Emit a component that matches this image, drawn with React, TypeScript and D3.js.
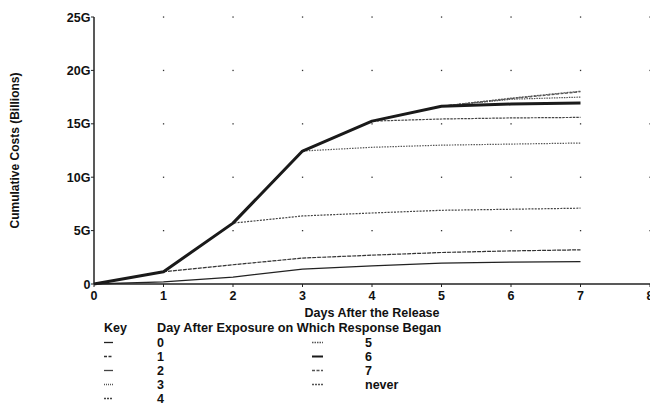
import * as d3 from "d3";

const DAYS = [0, 1, 2, 3, 4, 5, 6, 7];
const X_TICKS = [0, 1, 2, 3, 4, 5, 6, 7, 8];
const Y_TICKS = [0, 5, 10, 15, 20, 25];
const Y_TICK_LABELS = ["0", "5G", "10G", "15G", "20G", "25G"];

// cumulative costs (billions) per response-start day
const R0 = [0, 0.2, 0.65, 1.4, 1.7, 1.95, 2.05, 2.1];
const R1 = [0, 1.15, 1.8, 2.43, 2.7, 2.95, 3.1, 3.2];
const R2 = [0, 1.15, 5.7, 6.37, 6.65, 6.9, 7.0, 7.1];
const R3 = [0, 1.15, 5.7, 12.45, 12.8, 13.0, 13.1, 13.2];
const R4 = [0, 1.15, 5.7, 12.45, 15.25, 15.45, 15.55, 15.6];
const R5 = [0, 1.15, 5.7, 12.45, 15.25, 16.65, 17.3, 17.5];
const R6 = [0, 1.15, 5.7, 12.45, 15.25, 16.65, 16.85, 16.95];
const R7 = [0, 1.15, 5.7, 12.45, 15.25, 16.65, 17.35, 18.0];
const NEVER = [0, 1.15, 5.7, 12.45, 15.25, 16.65, 17.4, 18.05];

const KEY_COL1 = ["0", "1", "2", "3", "4"];
const KEY_COL2 = ["5", "6", "7", "never"];

// dash = line in chart, keyDash = glyph in the key
const series = [
  { key: "0", values: R0, dash: "", keyDash: "", width: 1.3, color: "#222" },
  { key: "1", values: R1, dash: "4,1", keyDash: "3,1.5", width: 1.2, color: "#333" },
  { key: "2", values: R2, dash: "2,1.2", keyDash: "", width: 1.2, color: "#444" },
  { key: "3", values: R3, dash: "1.5,1.2", keyDash: "1,1", width: 1.2, color: "#555" },
  { key: "4", values: R4, dash: "2.5,1", keyDash: "2,1", width: 1.2, color: "#444" },
  { key: "5", values: R5, dash: "1.5,1", keyDash: "1.5,1", width: 1.2, color: "#555" },
  { key: "7", values: R7, dash: "3,1.5", keyDash: "3,1.5", width: 1.2, color: "#555" },
  { key: "never", values: NEVER, dash: "2,1", keyDash: "2,1", width: 1.2, color: "#555" },
  { key: "6", values: R6, dash: "", keyDash: "", width: 3, color: "#1a1a1a" },
];

const FONT = "'Liberation Sans', Arial, sans-serif";

export default function App() {
  const width = 650;
  const height = 405;

  const x = d3.scaleLinear().domain([0, 8]).range([94, 650]);
  const y = d3.scaleLinear().domain([0, 25]).range([284, 17]);

  const line = d3
    .line<number>()
    .x((_, i) => x(DAYS[i]))
    .y((d) => y(d));

  const styleOf = (k: string) => series.find((s) => s.key === k)!;

  const keyRow = (k: string, i: number, gx: number, gw: number, tx: number) => {
    const s = styleOf(k);
    const cy = 342.5 + i * 14;
    return (
      <g key={k}>
        <line
          x1={gx}
          x2={gx + gw}
          y1={cy}
          y2={cy}
          stroke={s.color}
          strokeWidth={s.width > 2 ? 2 : 1.3}
          strokeDasharray={s.keyDash || undefined}
        />
        <text x={tx} y={cy + 4.5} fontSize={12.5} fill="#111">{k}</text>
      </g>
    );
  };

  return (
    <svg
      width={width}
      height={height}
      style={{ position: "absolute", left: 0, top: 0, background: "#fff" }}
      fontFamily={FONT}
      fontWeight="bold"
    >
      {/* grid dots */}
      {X_TICKS.slice(1).map((dx) =>
        Y_TICKS.slice(1).map((dy) => (
          <rect
            key={`${dx}-${dy}`}
            x={x(dx) - 0.6}
            y={y(dy) - 0.6}
            width={1.3}
            height={1.3}
            fill="#333"
          />
        ))
      )}

      {/* axes */}
      <line x1={x(0)} x2={x(0)} y1={y(0)} y2={y(25)} stroke="#222" strokeWidth={1.5} />
      <line x1={x(0)} x2={x(8)} y1={y(0)} y2={y(0)} stroke="#222" strokeWidth={1.5} />
      {Y_TICKS.map((v, i) => (
        <g key={v} transform={`translate(${x(0)},${y(v)})`}>
          <line x1={-3} x2={0} stroke="#222" strokeWidth={1} />
          <text x={-3.5} dy="0.36em" textAnchor="end" fontSize={12.5} fill="#111">
            {Y_TICK_LABELS[i]}
          </text>
        </g>
      ))}
      {X_TICKS.map((v) => (
        <g key={v} transform={`translate(${x(v)},${y(0)})`}>
          <line y1={0} y2={3} stroke="#222" strokeWidth={1} />
          <text y={15.5} textAnchor="middle" fontSize={12.5} fill="#111">
            {v}
          </text>
        </g>
      ))}

      <text
        transform={`translate(19,${(y(0) + y(25)) / 2}) rotate(-90)`}
        textAnchor="middle"
        fontSize={12}
        fill="#111"
      >
        Cumulative Costs (Billions)
      </text>
      <text x={x(4)} y={316.5} textAnchor="middle" fontSize={12.5} fill="#111">
        Days After the Release
      </text>

      {/* lines */}
      {series.map((s) => (
        <path
          key={s.key}
          d={line(s.values) ?? undefined}
          fill="none"
          stroke={s.color}
          strokeWidth={s.width}
          strokeDasharray={s.dash || undefined}
          strokeLinejoin="round"
        />
      ))}

      {/* key */}
      <text x={104} y={332} fontSize={12.5} fill="#111">Key</text>
      <text x={157} y={332} fontSize={12.7} fill="#111">
        Day After Exposure on Which Response Began
      </text>
      {KEY_COL1.map((k, i) => keyRow(k, i, 104, 9, 157))}
      {KEY_COL2.map((k, i) => keyRow(k, i, 312, 11, 365))}
    </svg>
  );
}
